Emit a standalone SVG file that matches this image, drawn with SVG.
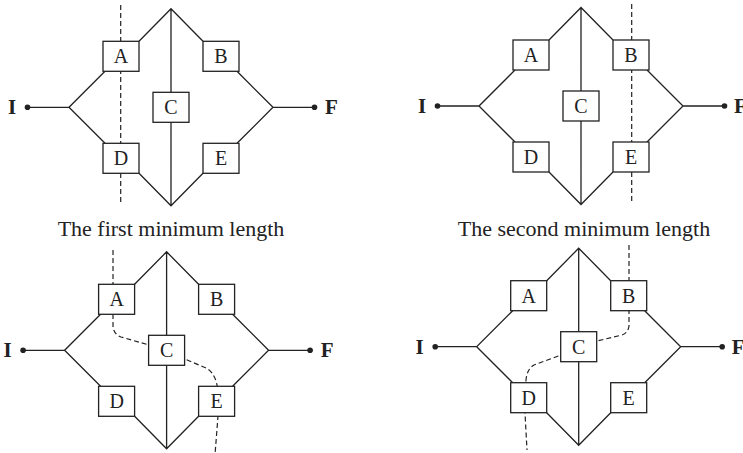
<svg xmlns="http://www.w3.org/2000/svg" width="743" height="453" viewBox="0 0 743 453">
<defs>
<style>
.ln{fill:none;stroke:#222;stroke-width:1.3}
.cut{fill:none;stroke:#222;stroke-width:1.2;stroke-dasharray:5,3}
.box{fill:#fff;stroke:#222;stroke-width:1.3}
.lbl{font-family:"Liberation Serif","Times New Roman",serif;font-size:20px;fill:#222;text-anchor:middle}
.term{font-family:"Liberation Serif","Times New Roman",serif;font-size:21px;font-weight:bold;fill:#222;text-anchor:middle}
.cap{font-family:"Liberation Serif","Times New Roman",serif;font-size:22px;fill:#222;text-anchor:middle}
.dot{fill:#222}
</style>
<g id="net">
<path class="ln" d="M-143.5,0 H-102 L-66,-36 M-102,0 L-66,36 M-32,-66 L0,-98.5 L32,-66 M0,-98.5 V98.5 M-32,66 L0,98.5 L32,66 M66,-36 L102,0 L66,36 M102,0 H143.5"/>
<circle class="dot" cx="-143.5" cy="0" r="2.8"/>
<circle class="dot" cx="143.5" cy="0" r="2.8"/>
</g>
</defs>

<!-- Diagram 1 -->
<g id="diagram1" transform="translate(171,107.3)">
<g id="d1-connectors"><use href="#net"/><path class="cut" d="M-50.3,-102.3 V94.7"/></g>
<g id="d1-I"><text class="term" x="-159" y="7">I</text></g>
<g id="d1-F"><text class="term" x="160.5" y="7">F</text></g>
<g id="d1-A"><rect class="box" x="-68" y="-66" width="36" height="30"/><text class="lbl" x="-50" y="-44">A</text></g>
<g id="d1-B"><rect class="box" x="32" y="-66" width="36" height="30"/><text class="lbl" x="50" y="-44">B</text></g>
<g id="d1-C"><rect class="box" x="-18" y="-15" width="36" height="30"/><text class="lbl" x="0" y="7">C</text></g>
<g id="d1-D"><rect class="box" x="-68" y="36" width="36" height="30"/><text class="lbl" x="-50" y="58">D</text></g>
<g id="d1-E"><rect class="box" x="32" y="36" width="36" height="30"/><text class="lbl" x="50" y="58">E</text></g>
</g>

<!-- Diagram 2 -->
<g id="diagram2" transform="translate(581,106)">
<g id="d2-connectors"><use href="#net"/><path class="cut" d="M50.7,-102 V95.7"/></g>
<g id="d2-I"><text class="term" x="-159" y="7">I</text></g>
<g id="d2-F"><text class="term" x="159.5" y="7">F</text></g>
<g id="d2-A"><rect class="box" x="-68" y="-66" width="36" height="30"/><text class="lbl" x="-50" y="-44">A</text></g>
<g id="d2-B"><rect class="box" x="32" y="-66" width="36" height="30"/><text class="lbl" x="50" y="-44">B</text></g>
<g id="d2-C"><rect class="box" x="-18" y="-15" width="36" height="30"/><text class="lbl" x="0" y="7">C</text></g>
<g id="d2-D"><rect class="box" x="-68" y="36" width="36" height="30"/><text class="lbl" x="-50" y="58">D</text></g>
<g id="d2-E"><rect class="box" x="32" y="36" width="36" height="30"/><text class="lbl" x="50" y="58">E</text></g>
</g>

<text class="cap" x="171" y="236">The first minimum length</text>
<text class="cap" x="584" y="236">The second minimum length</text>

<!-- Diagram 3 -->
<g id="diagram3" transform="translate(166.6,350.3)">
<g id="d3-connectors"><use href="#net"/><path class="cut" d="M-53.6,-100.3 V-22.3 Q-51.6,-15.3 -45.6,-13.3 L-17.6,-5.3 L18.4,8.7 L40.1,18 Q46.4,21.7 49.4,30.7 L50.9,36.7 L51.4,65.7 L48.6,102"/></g>
<g id="d3-I"><text class="term" x="-159" y="7">I</text></g>
<g id="d3-F"><text class="term" x="160.5" y="7">F</text></g>
<g id="d3-A"><rect class="box" x="-68" y="-66" width="36" height="30"/><text class="lbl" x="-50" y="-44">A</text></g>
<g id="d3-B"><rect class="box" x="32" y="-66" width="36" height="30"/><text class="lbl" x="50" y="-44">B</text></g>
<g id="d3-C"><rect class="box" x="-18" y="-15" width="36" height="30"/><text class="lbl" x="0" y="7">C</text></g>
<g id="d3-D"><rect class="box" x="-68" y="36" width="36" height="30"/><text class="lbl" x="-50" y="58">D</text></g>
<g id="d3-E"><rect class="box" x="32" y="36" width="36" height="30"/><text class="lbl" x="50" y="58">E</text></g>
</g>

<!-- Diagram 4 -->
<g id="diagram4" transform="translate(578.7,346.7)">
<g id="d4-connectors"><use href="#net"/><path class="cut" d="M50.3,-101.7 V-20.7 Q49.3,-12.7 41.3,-11.2 L18.3,-5.7 L-17.7,8.3 L-44.7,18.3 Q-51.7,22.3 -52.7,33.3 L-53.7,66.3 L-51.7,103.3"/></g>
<g id="d4-I"><text class="term" x="-159" y="7">I</text></g>
<g id="d4-F"><text class="term" x="159.5" y="7">F</text></g>
<g id="d4-A"><rect class="box" x="-68" y="-66" width="36" height="30"/><text class="lbl" x="-50" y="-44">A</text></g>
<g id="d4-B"><rect class="box" x="32" y="-66" width="36" height="30"/><text class="lbl" x="50" y="-44">B</text></g>
<g id="d4-C"><rect class="box" x="-18" y="-15" width="36" height="30"/><text class="lbl" x="0" y="7">C</text></g>
<g id="d4-D"><rect class="box" x="-68" y="36" width="36" height="30"/><text class="lbl" x="-50" y="58">D</text></g>
<g id="d4-E"><rect class="box" x="32" y="36" width="36" height="30"/><text class="lbl" x="50" y="58">E</text></g>
</g>
</svg>
